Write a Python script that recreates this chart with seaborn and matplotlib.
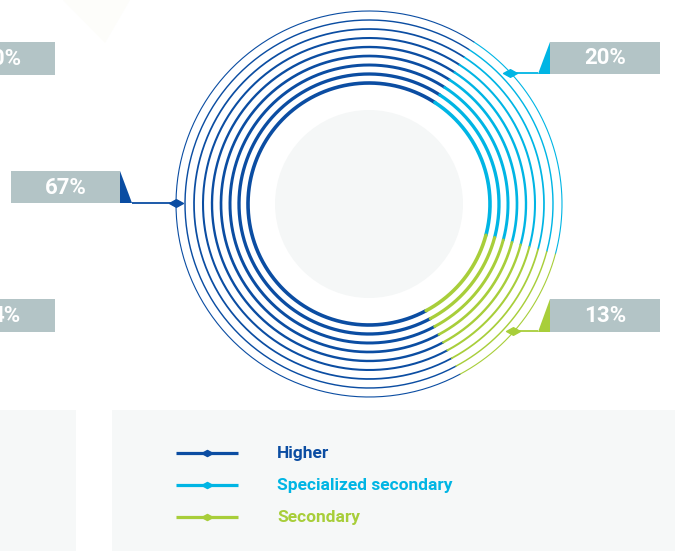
import numpy as np
import pandas as pd
import matplotlib
matplotlib.use("Agg")
import matplotlib.pyplot as plt
import seaborn as sns
from matplotlib.patches import Rectangle, Polygon, Circle
from matplotlib.path import Path

# Education level shares
categories = ["Higher", "Specialized secondary", "Secondary"]
shares = [67, 20, 13]
share_labels = ["67%", "20%", "13%"]
palette = ["#0B4DA2", "#00B5E4", "#A8CE3A"]
# cropped labels of the neighbouring panel
side_labels = ["0%", "4%"]

sns.set_theme(style="white")
plt.rcParams["font.family"] = ["Roboto", "DejaVu Sans"]

W, H = 675, 551
fig = plt.figure(figsize=(W / 100, H / 100), dpi=100)
ax = fig.add_axes([0, 0, 1, 1])

BOX = "#B3C4C6"
PANEL = "#F6F8F8"

# ring geometry
cx, cy = 369, 204
r_inner, r_step, n_rings = 121, 9, 9
start_angle = 57.0
draw_order = [1, 2, 0]  # clockwise from the top-right boundary

rows = []
for k in range(n_rings):
    r = r_inner + r_step * k
    theta = start_angle
    for idx in draw_order:
        span = shares[idx] / 100 * 360
        th = np.radians(np.linspace(theta, theta - span, 200))
        for t in th:
            rows.append({"x": cx + r * np.cos(t), "y": cy - r * np.sin(t),
                         "segment": categories[idx], "ring": k,
                         "unit": f"{k}-{idx}"})
        theta -= span
rings = pd.DataFrame(rows)

# soft background disc in the middle
ax.add_patch(Circle((cx, cy), 94, facecolor="#F5F7F7", edgecolor="none", zorder=0))
# faint decorative shape at the top
ax.add_patch(Polygon([(63, 0), (130, 0), (105, 43)], closed=True,
                     facecolor="#FDFDFA", edgecolor="none", zorder=0))

sns.lineplot(data=rings, x="x", y="y", hue="segment", hue_order=categories,
             palette=palette, size="ring", sizes=(2.6, 0.8), units="unit",
             estimator=None, sort=False, legend=False, ax=ax, zorder=3)

# diamond marker shape (wider than tall)
diamond = Path([(-1, 0), (0, 0.55), (1, 0), (0, -0.55), (-1, 0)],
               [Path.MOVETO, Path.LINETO, Path.LINETO, Path.LINETO, Path.CLOSEPOLY])

# callouts: (box x0, x1, y0, y1, side, anchor x, anchor y)
callouts = [
    (11, 120, 171, 203, "left", 176, 202.5),
    (550, 660, 42, 74, "right", 510, 73),
    (550, 660, 299, 332, "right", 513, 330.5),
]
for (x0, x1, y0, y1, side, axx, ayy), label, col in zip(callouts, share_labels, palette):
    ax.add_patch(Rectangle((x0, y0), x1 - x0, y1 - y0, facecolor=BOX,
                           edgecolor="none", zorder=2))
    if side == "left":
        tri = [(x1, y0), (x1, y1), (x1 + 12, y1)]
        lx = x1 + 12
    else:
        tri = [(x0, y0), (x0, y1), (x0 - 12, y1)]
        lx = x0 - 12
    ax.add_patch(Polygon(tri, closed=True, facecolor=col, edgecolor="none", zorder=2))
    ax.plot([lx, axx], [ayy, ayy], color=col, lw=1.3, zorder=4, solid_capstyle="butt")
    ax.plot([axx], [ayy], marker=diamond, ms=10, color=col, mec=col, zorder=5)
    ax.text((x0 + x1) / 2, (y0 + y1) / 2 + 0.5, label, color="white",
            fontsize=16, fontweight="bold", ha="center", va="center", zorder=6)

# neighbouring panel's cropped callouts on the left edge
for (y0, y1), label in zip([(42, 75), (299, 332)], side_labels):
    ax.add_patch(Rectangle((-60, y0), 115, y1 - y0, facecolor=BOX,
                           edgecolor="none", zorder=2))
    ax.text(21, (y0 + y1) / 2 + 0.5, label, color="white", fontsize=16,
            fontweight="bold", ha="right", va="center", zorder=6, clip_on=True)

# bottom panels
ax.add_patch(Rectangle((-5, 410), 81, 150, facecolor=PANEL, edgecolor="none", zorder=1))
ax.add_patch(Rectangle((112, 410), 570, 150, facecolor=PANEL, edgecolor="none", zorder=1))

# legend
legend_y = [453, 485, 517]
for cat, col, ly in zip(categories, palette, legend_y):
    ax.plot([176, 238], [ly, ly], color=col, lw=2.3, zorder=4, solid_capstyle="butt")
    ax.plot([207], [ly], marker=diamond, ms=8, color=col, mec=col, zorder=5)
    ax.text(277, ly + 0.5, cat, color=col, fontsize=12.5, fontweight="bold",
            ha="left", va="center", zorder=6)

ax.set_xlim(0, W)
ax.set_ylim(H, 0)
ax.set_axis_off()
fig.savefig("out.png", dpi=100)
